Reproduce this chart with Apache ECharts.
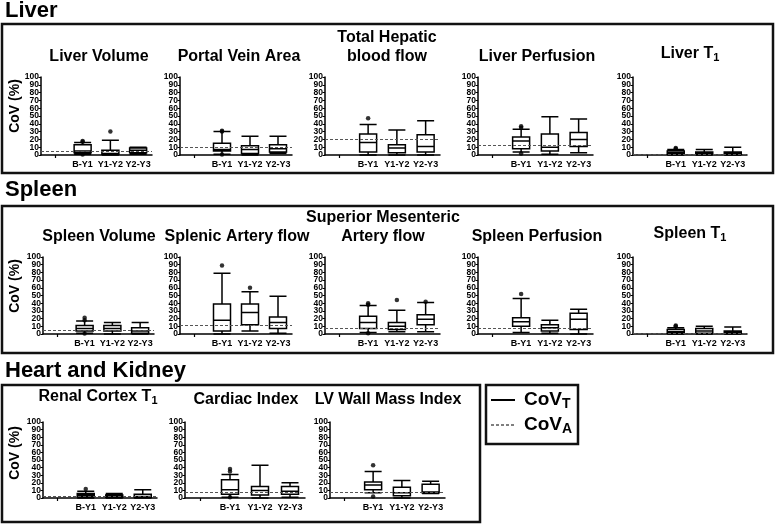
<!DOCTYPE html>
<html><head><meta charset="utf-8">
<script src="https://cdn.jsdelivr.net/npm/echarts@6/dist/echarts.min.js"></script>
<style>html,body{margin:0;padding:0;background:#fff}#c{width:777px;height:524px}</style>
</head><body><div id="c"></div>
<script>
// ---------- data ----------
const categories = ['', 'B-Y1', 'Y1-Y2', 'Y2-Y3'];
const groups = ['B-Y1', 'Y1-Y2', 'Y2-Y3'];
const yTicksEven = [0, 20, 40, 60, 80, 100];
const yTicksOdd = [10, 30, 50, 70, 90];
const sectionNames = ['Liver', 'Spleen', 'Heart and Kidney'];
const panelTitles = ['Liver Volume', 'Portal Vein Area', 'Total Hepatic\nblood flow', 'Liver Perfusion', 'Liver T{sub|1}',
  'Spleen Volume', 'Splenic Artery flow', 'Superior Mesenteric\nArtery flow', 'Spleen Perfusion', 'Spleen T{sub|1}',
  'Renal Cortex T{sub|1}', 'Cardiac Index', 'LV Wall Mass Index'];
const yAxisName = 'CoV (%)';
const legendNames = ['CoV{sub|T}', 'CoV{sub|A}'];

// [min, Q1, median, Q3, max] per group
const liverVolume   = [[1,3,5,13,16],[0,1,2,6,19],[1,3,6,9,10]];
const portalVein    = [[1,5,7,15,30],[0,2,7,12,24],[2,4,8,13,24]];
const hepaticFlow   = [[0,4,16,27,39],[0,3,9,13,32],[0,4,11,26,44]];
const liverPerf     = [[4,8,18,23,33],[1,5,10,27,49],[3,11,20,29,46]];
const liverT1       = [[0,1,3,5,7],[0,1,3,4,7],[0,1,2,4,10]];
const spleenVolume  = [[1,4,7,11,17],[0,4,7,11,15],[0,1,4,8,15]];
const splenicFlow   = [[0,4,18,39,79],[4,12,28,39,55],[1,7,15,22,49]];
const smaFlow       = [[2,7,15,23,37],[3,6,10,15,31],[3,12,19,25,41]];
const spleenPerf    = [[2,10,16,21,46],[1,4,8,12,18],[0,6,19,27,32]];
const spleenT1      = [[0,1,3,6,8],[0,1,4,7,10],[0,1,2,4,9]];
const renalT1       = [[0,2,4,6,9],[0,1,2,4,6],[0,0.5,2,5,11]];
const cardiacIndex  = [[1,5,11,24,31],[0,4,10,15,43],[1,5,9,15,20]];
const lvMassIndex   = [[7,11,17,21,35],[0,3,7,14,23],[6,7,8,18,22]];

// outliers [group, value]
const liverVolumeOut  = [['B-Y1',17],['B-Y1',18],['B-Y1',0.5],['Y1-Y2',30]];
const portalVeinOut   = [['B-Y1',30],['B-Y1',31],['B-Y1',0.5]];
const hepaticFlowOut  = [['B-Y1',47]];
const liverPerfOut    = [['B-Y1',35],['B-Y1',37],['B-Y1',2]];
const liverT1Out      = [['B-Y1',8],['B-Y1',9]];
const spleenVolumeOut = [['B-Y1',18],['B-Y1',21],['B-Y1',0.5]];
const splenicFlowOut  = [['B-Y1',89],['Y1-Y2',60]];
const smaFlowOut      = [['B-Y1',38],['B-Y1',40],['B-Y1',1],['Y1-Y2',44],['Y2-Y3',42]];
const spleenPerfOut   = [['B-Y1',52]];
const spleenT1Out     = [['B-Y1',10],['B-Y1',11]];
const renalT1Out      = [['B-Y1',12]];
const cardiacIndexOut = [['B-Y1',35],['B-Y1',38],['B-Y1',1]];
const lvMassIndexOut  = [['B-Y1',43],['B-Y1',2]];

// analytical CoV (dashed line) per panel
const covA = [5, 10, 20, 12, 1.5, 5, 11, 7.5, 7, 1.5, 2, 8, 8];

const boxSets = [liverVolume, portalVein, hepaticFlow, liverPerf, liverT1, spleenVolume, splenicFlow, smaFlow, spleenPerf, spleenT1, renalT1, cardiacIndex, lvMassIndex];
const outSets = [liverVolumeOut, portalVeinOut, hepaticFlowOut, liverPerfOut, liverT1Out, spleenVolumeOut, splenicFlowOut, smaFlowOut, spleenPerfOut, spleenT1Out, renalT1Out, cardiacIndexOut, lvMassIndexOut];

// ---------- layout ----------
const FONT = '"Liberation Sans", Arial, Helvetica, sans-serif';
const panelRow   = [0,0,0,0,0, 1,1,1,1,1, 2,2,2];
const rowTop     = [77, 257, 422];
const rowHeight  = [78, 77, 76];
const panelLeft  = [41,180,325,478,633, 43,180,325,478,633, 43,185,330];
const panelWidth = [111,112,115,115,114, 111,112,115,115,114, 114,120,115];
const titleX     = [99,239,387,537,690, 99,237,383,537,690, 98,246,388];
const titleY     = [57, 237, 400];
const yNameY     = [106, 286, 453];
const firstInRow = [0, 5, 10];

const grids = [], xAxes = [], yAxes = [], series = [], graphics = [];
const subRich = { sub: { fontFamily: FONT, fontWeight: 'bold', fontSize: 11, padding: [7,0,0,0], verticalAlign: 'bottom' } };
const yLabelBase = { color: '#000', fontFamily: FONT, fontWeight: 'bold', fontSize: 8.5, margin: 2,
                     showMinLabel: true, showMaxLabel: true, hideOverlap: false };

boxSets.forEach((boxes, i) => {
  const r = panelRow[i];
  grids.push({ left: panelLeft[i], top: rowTop[r], width: panelWidth[i], height: rowHeight[r] });
  xAxes.push({
    type: 'category', gridIndex: i, data: categories,
    axisLine: { lineStyle: { color: '#000', width: 1.5 } },
    axisTick: { show: true, alignWithLabel: true, length: 3, interval: (idx) => idx === 0, lineStyle: { color: '#000', width: 1.2 } },
    axisLabel: { interval: 0, color: '#000', fontFamily: FONT, fontWeight: 'bold', fontSize: 9, margin: 5 },
    splitLine: { show: false }
  });
  // main y axis: line, all ticks, labels at 0,20,...,100
  yAxes.push({
    type: 'value', gridIndex: i, min: 0, max: 100, interval: 10, position: 'left',
    axisLine: { show: true, lineStyle: { color: '#000', width: 1.5 } },
    axisTick: { show: true, length: 2.5, lineStyle: { color: '#000', width: 1 } },
    axisLabel: Object.assign({}, yLabelBase, { customValues: yTicksEven,
      formatter: (v) => (yTicksEven.indexOf(v) >= 0 ? String(v) : '') }),
    splitLine: { show: false }
  });
  // companion y axis on the same scale: labels at 10,30,...,90
  yAxes.push({
    type: 'value', gridIndex: i, min: 0, max: 100, interval: 10, position: 'left', offset: 0,
    axisLine: { show: false }, axisTick: { show: false },
    axisLabel: Object.assign({}, yLabelBase, { customValues: yTicksOdd,
      formatter: (v) => (yTicksOdd.indexOf(v) >= 0 ? String(v) : '') }),
    splitLine: { show: false }
  });
  series.push({
    type: 'boxplot', xAxisIndex: i, yAxisIndex: 2 * i,
    data: boxes.map((b, k) => [groups[k]].concat(b)),
    encode: { x: 0, y: [1,2,3,4,5] },
    boxWidth: [17, 17],
    itemStyle: { color: '#fff', borderColor: '#000', borderWidth: 1.5 },
    markLine: {
      silent: true, symbol: ['none','none'], label: { show: false },
      lineStyle: { color: '#555', type: [3, 2], width: 1.2 },
      data: [{ yAxis: covA[i] }]
    },
    z: 3
  });
  series.push({
    type: 'scatter', xAxisIndex: i, yAxisIndex: 2 * i,
    data: outSets[i], symbol: 'circle', symbolSize: 4.5,
    itemStyle: { color: '#000' }, z: 4
  });
  const isT1 = panelTitles[i].indexOf('{sub|') >= 0;
  graphics.push({
    type: 'text', x: titleX[i], y: titleY[r] + 9.5 - (isT1 ? 3 : 0),
    style: {
      text: panelTitles[i], textAlign: 'center', textVerticalAlign: 'bottom',
      fontFamily: FONT, fontWeight: 'bold', fontSize: 16, lineHeight: 19, fill: '#000',
      rich: subRich
    }
  });
  if (firstInRow.indexOf(i) >= 0) {
    graphics.push({
      type: 'text', x: 15, y: yNameY[r], rotation: Math.PI / 2,
      style: { text: yAxisName, textAlign: 'center', textVerticalAlign: 'middle',
               fontFamily: FONT, fontWeight: 'bold', fontSize: 14, fill: '#000' }
    });
  }
});

// section headers & frames
const sectionY = [11, 190, 371];
sectionNames.forEach((s, k) => {
  graphics.push({ type: 'text', x: 5, y: sectionY[k], style: { text: s, textVerticalAlign: 'middle', fontFamily: FONT, fontWeight: 'bold', fontSize: 22, fill: '#000' } });
});
const frames = [[2,24,771,149],[2,206,771,147],[2,385,478,137],[486,385,92,59]];
frames.forEach(f => {
  graphics.push({ type: 'rect', shape: { x: f[0], y: f[1], width: f[2], height: f[3] }, style: { fill: 'none', stroke: '#111', lineWidth: 2.5 }, z: 10 });
});
// legend
graphics.push({ type: 'line', shape: { x1: 491, y1: 400, x2: 515, y2: 400 }, style: { stroke: '#000', lineWidth: 2 } });
graphics.push({ type: 'line', shape: { x1: 491, y1: 425, x2: 515, y2: 425 }, style: { stroke: '#555', lineWidth: 1.5, lineDash: [3, 2] } });
const legRich = { sub: { fontFamily: FONT, fontWeight: 'bold', fontSize: 14, padding: [8,0,0,0], verticalAlign: 'bottom' } };
[400, 425].forEach((yy, k) => {
  graphics.push({ type: 'text', x: 524, y: yy, style: { text: legendNames[k], textVerticalAlign: 'middle', fontFamily: FONT, fontWeight: 'bold', fontSize: 19, fill: '#000', rich: legRich } });
});

const chart = echarts.init(document.getElementById('c'), null, { renderer: 'canvas' });
chart.setOption({
  animation: false,
  backgroundColor: '#fff',
  grid: grids, xAxis: xAxes, yAxis: yAxes, series: series,
  graphic: graphics
});
</script></body></html>
